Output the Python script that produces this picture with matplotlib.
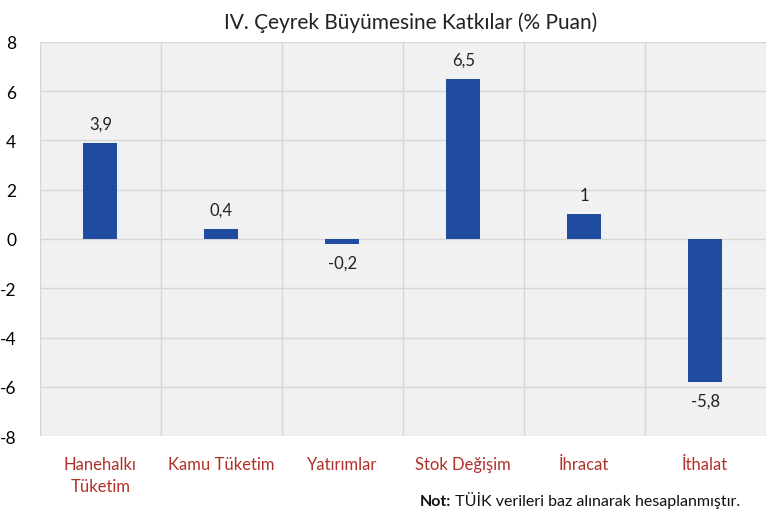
import matplotlib

matplotlib.use("Agg")
import matplotlib.pyplot as plt

categories = ["Hanehalkı\nTüketim", "Kamu Tüketim", "Yatırımlar", "Stok Değişim", "İhracat", "İthalat"]
values = [3.9, 0.4, -0.2, 6.5, 1.0, -5.8]
value_labels = ["3,9", "0,4", "-0,2", "6,5", "1", "-5,8"]
yticks = [-8, -6, -4, -2, 0, 2, 4, 6, 8]

plt.rcParams["font.family"] = ["Lato", "DejaVu Sans"]

fig = plt.figure(figsize=(7.68, 5.10), dpi=100)
ax = fig.add_axes([0.052, 0.143, 0.945, 0.773])
ax.set_facecolor("#f1f1f1")

x = list(range(len(categories)))
ax.bar(x, values, width=0.28, color="#1f4ba0", zorder=3)
for xi, v, lab in zip(x, values, value_labels):
    off = 0.45 if v >= 0 else -0.45
    ax.text(xi, v + off, lab, ha="center", va="bottom" if v >= 0 else "top",
            fontsize=12, color="#222222", zorder=4)

ax.set_xlim(-0.5, len(categories) - 0.5)
ax.set_ylim(-8, 8)
ax.set_yticks(yticks)
ax.set_yticklabels([str(t) for t in yticks], fontsize=12.5)
ax.set_xticks(x)
ax.set_xticklabels(categories, fontsize=12, color="#b0302a", linespacing=1.5, va="top")
ax.tick_params(axis="both", length=0)
ax.tick_params(axis="x", pad=14)
ax.tick_params(axis="y", pad=17)

for t in yticks:
    ax.axhline(t, color="#d6d6d6", lw=1.0, zorder=1)
for b in range(len(categories) + 1):
    ax.axvline(b - 0.5, color="#d6d6d6", lw=1.0, zorder=1)
for s in ax.spines.values():
    s.set_visible(False)

fig.text(0.535, 0.955, "IV. Çeyrek Büyümesine Katkılar (% Puan)", ha="center",
         va="center", fontsize=15, color="#222222")
note = fig.text(0.547, 0.008, "Not:", fontsize=11.5, fontweight="bold", color="#111111")
ax.annotate(" TÜİK verileri baz alınarak hesaplanmıştır.", xy=(1, 0), xycoords=note,
            va="bottom", fontsize=11.5, color="#111111", annotation_clip=False)

fig.savefig("out.png", dpi=100)
